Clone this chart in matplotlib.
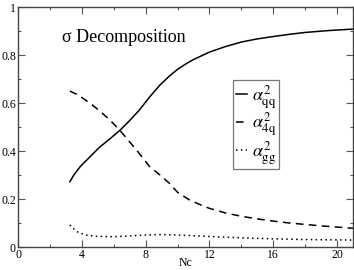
import matplotlib
matplotlib.use("Agg")
import matplotlib.pyplot as plt
from matplotlib.ticker import MultipleLocator

# values
nc_qq = [3.25, 3.5, 3.9, 4.5, 5.1, 5.75, 6.4, 7.0, 7.6, 8.25, 8.9, 9.5, 10, 10.5,
         11, 12, 13, 14, 15, 16, 17, 18, 19.5, 21]
alpha_qq = [0.272, 0.30, 0.335, 0.375, 0.415, 0.45, 0.487, 0.527, 0.57, 0.625, 0.675,
            0.713, 0.74, 0.762, 0.781, 0.812, 0.835, 0.854, 0.867, 0.877, 0.886, 0.894,
            0.902, 0.908]

nc_4q = [3.25, 3.8, 4.5, 5.1, 5.75, 6.4, 7.0, 7.6, 8.25, 8.9, 9.5, 10, 10.75, 11.5,
         12, 13, 14, 15, 16, 17, 18, 19, 20, 21]
alpha_4q = [0.65, 0.632, 0.60, 0.568, 0.53, 0.485, 0.438, 0.39, 0.335, 0.30, 0.265,
            0.228, 0.196, 0.174, 0.161, 0.142, 0.128, 0.117, 0.108, 0.10, 0.094,
            0.088, 0.083, 0.078]

nc_gg = [3.25, 3.5, 3.7, 4.2, 5, 6, 7, 8, 9, 10, 12, 14, 16, 18, 21]
alpha_gg = [0.092, 0.075, 0.064, 0.05, 0.044, 0.043, 0.046, 0.05, 0.052, 0.05, 0.044,
            0.038, 0.034, 0.031, 0.029]

plt.rcParams["font.family"] = ["Liberation Serif", "DejaVu Serif"]
plt.rcParams["mathtext.fontset"] = "stix"

fig = plt.figure(figsize=(3.54, 2.70), dpi=100)
ax = fig.add_axes([18 / 354, 23 / 270, 335 / 354, 240 / 270])

ax.plot(nc_qq, alpha_qq, color="black", lw=1.1, ls="-",
        label=r"$\alpha^{2}_{\mathrm{qq}}$")
ax.plot(nc_4q, alpha_4q, color="black", lw=1.1, ls=(0, (5, 3.5)),
        label=r"$\alpha^{2}_{\mathrm{4q}}$")
ax.plot(nc_gg, alpha_gg, color="black", lw=1.1, ls=(0, (1, 2.2)),
        label=r"$\alpha^{2}_{\mathrm{gg}}$")

ax.set_xlim(0, 21)
ax.set_ylim(0, 1)
ax.xaxis.set_major_locator(MultipleLocator(4))
ax.xaxis.set_minor_locator(MultipleLocator(2))
ax.yaxis.set_minor_locator(MultipleLocator(0.1))
ax.set_yticks([0, 0.2, 0.4, 0.6, 0.8, 1.0])
ax.set_yticklabels(["0", "0.2", "0.4", "0.6", "0.8", "1"])
ax.tick_params(which="both", direction="in", top=True, right=True,
               labelsize=8.5, colors="#555555", labelcolor="black", pad=1.5)
ax.tick_params(which="major", length=5, width=0.8)
ax.tick_params(which="minor", length=2.5, width=0.8)
for s in ax.spines.values():
    s.set_color("#444444")
    s.set_linewidth(1.0)

ax.set_xlabel("Nc", fontsize=8.5)
ax.xaxis.set_label_coords(0.5, -0.042)
ax.text(2.75, 0.855, "σ Decomposition", fontsize=13, ha="left", va="baseline")

leg = ax.legend(loc="upper left", bbox_to_anchor=(0.642, 0.696), borderaxespad=0,
                fontsize=13, handlelength=0.6, handletextpad=0.3, borderpad=0.15,
                labelspacing=0.0, fancybox=False, framealpha=1)
leg.get_frame().set_edgecolor("#777777")
leg.get_frame().set_linewidth(0.9)

fig.savefig("out.png", dpi=100)
